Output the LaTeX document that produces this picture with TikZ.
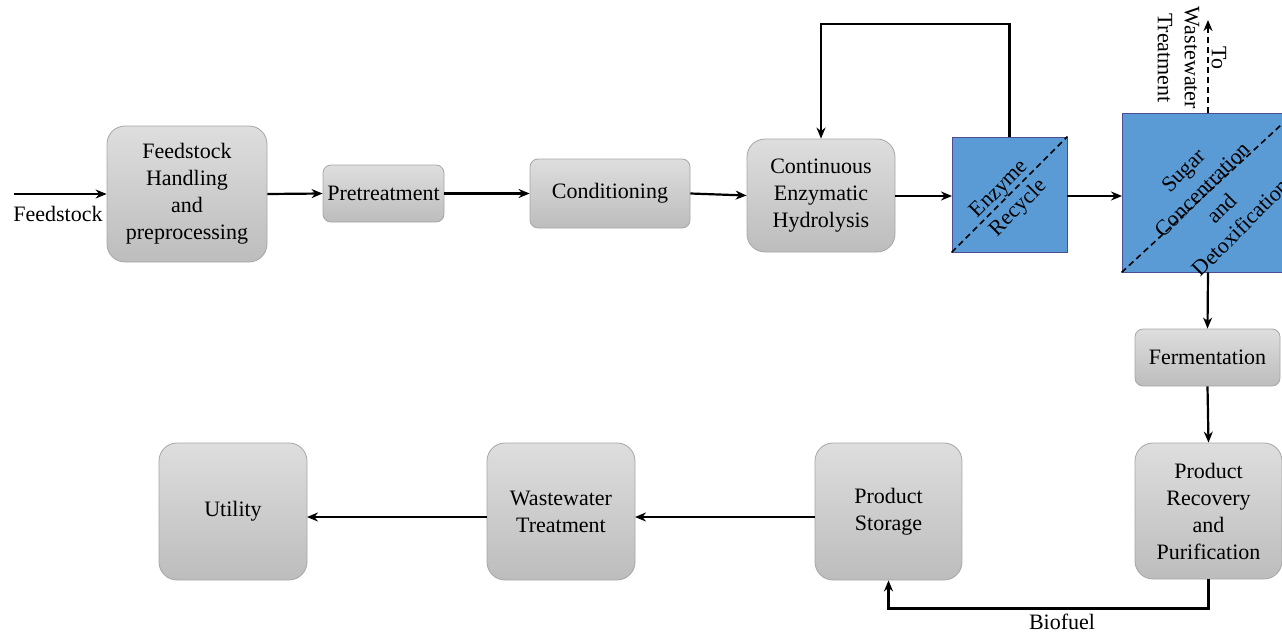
\documentclass[tikz,border=0pt]{standalone}
\usepackage{fontspec}
\setmainfont{Liberation Serif}
\setsansfont{Liberation Serif}
\usetikzlibrary{arrows.meta}
\tikzset{
  txt/.style={font=\rmfamily\fontsize{22}{27}\selectfont},
  graybox/.style={txt, draw=black!35, line width=0.8pt, top color=black!13, bottom color=black!26, rounded corners=18pt, align=center, inner sep=0pt},
  smallbox/.style={graybox, rounded corners=8pt},
  bluebox/.style={draw=blue!40!black!70, line width=0.8pt, fill={rgb,255:red,91;green,155;blue,213}, inner sep=0pt},
  arr/.style={line width=2.2pt, -{Stealth[length=11pt,width=9pt]}},
  dsh/.style={line width=1.6pt, dash pattern=on 6pt off 4pt},
  lbl/.style={txt, align=center, inner sep=0pt},
}
\begin{document}
\begin{tikzpicture}[x=1pt,y=-1pt]
\useasboundingbox (0,0) rectangle (1282,632);
\clip (0,0) rectangle (1282,632);
% gray boxes
\node[graybox, minimum width=160pt, minimum height=136pt] (fh) at (187,194) {Feedstock\\Handling\\and\\preprocessing};
\node[smallbox, minimum width=121pt, minimum height=57pt] (pre) at (383.5,193.5) {Pretreatment};
\node[smallbox, minimum width=160pt, minimum height=69pt] (cond) at (610,193.5) {Conditioning};
\node[graybox, minimum width=148pt, minimum height=113pt] (ceh) at (821,195.5) {Continuous\\Enzymatic\\Hydrolysis};
\node[smallbox, minimum width=145pt, minimum height=57pt] (ferm) at (1207.5,357.5) {Fermentation};
\node[graybox, minimum width=147pt, minimum height=136pt] (prp) at (1208.5,511) {Product\\Recovery\\and\\Purification};
\node[graybox, minimum width=147pt, minimum height=137pt] (ps) at (888.5,511.5) {Product\\Storage};
\node[graybox, minimum width=148pt, minimum height=137pt] (wwt) at (561,511.5) {Wastewater\\Treatment};
\node[graybox, minimum width=148pt, minimum height=137pt] (util) at (233,511.5) {Utility};
% blue boxes
\node[bluebox, minimum width=115pt, minimum height=115pt] (er) at (1009.5,194.5) {};
\draw[dsh] (er.south west) -- (er.north east);
\node[lbl, rotate=45] (ert) at (1009.5,199) {Enzyme\\Recycle};
\node[bluebox, minimum width=172pt, minimum height=159pt] (sc) at (1208,192.5) {};
\draw[dsh] (sc.south west) -- (sc.north east);
\node[lbl, rotate=45] (sct) at (1212,199) {Sugar\\Concentration\\and\\Detoxification};
% labels
\node[lbl] (fl) at (58,214) {Feedstock};
\coordinate (fin) at (14,194);
\node[lbl] (bf) at (1062,622) {Biofuel};
\coordinate (wwend) at (1208,20);
\node[lbl, rotate=-90] (wwl) at (1192,58) {To\\Wastewater\\Treatment};
% helper coordinates
\coordinate (a1) at (895,196);
\coordinate (a2) at (952,196);
\coordinate (b1) at (1067,196);
\coordinate (b2) at (1122,196);
\coordinate (c1) at (815,517);
\coordinate (c2) at (635,517);
\coordinate (d1) at (487,517);
\coordinate (d2) at (307,517);
% arrows
\draw[arr] (fin) -- (fh.west);
\draw[arr] (fh.east) -- (pre.west);
\draw[arr] (pre.east) -- (cond.west);
\draw[arr] (cond.east) -- (ceh.west);
\draw[arr] (a1) -- (a2);
\draw[arr] (b1) -- (b2);
\draw[arr] (er.north) -- ++(0,-113) -| (ceh.north);
\draw[arr, dash pattern=on 6pt off 4pt] (sc.north) -- (wwend);
\draw[arr] (sc.south) -- (ferm.north);
\draw[arr] (ferm.south) -- (prp.north);
\draw[arr] (prp.south) -- ++(0,29) -| (ps.south);
\draw[arr] (c1) -- (c2);
\draw[arr] (d1) -- (d2);
\end{tikzpicture}
\end{document}
